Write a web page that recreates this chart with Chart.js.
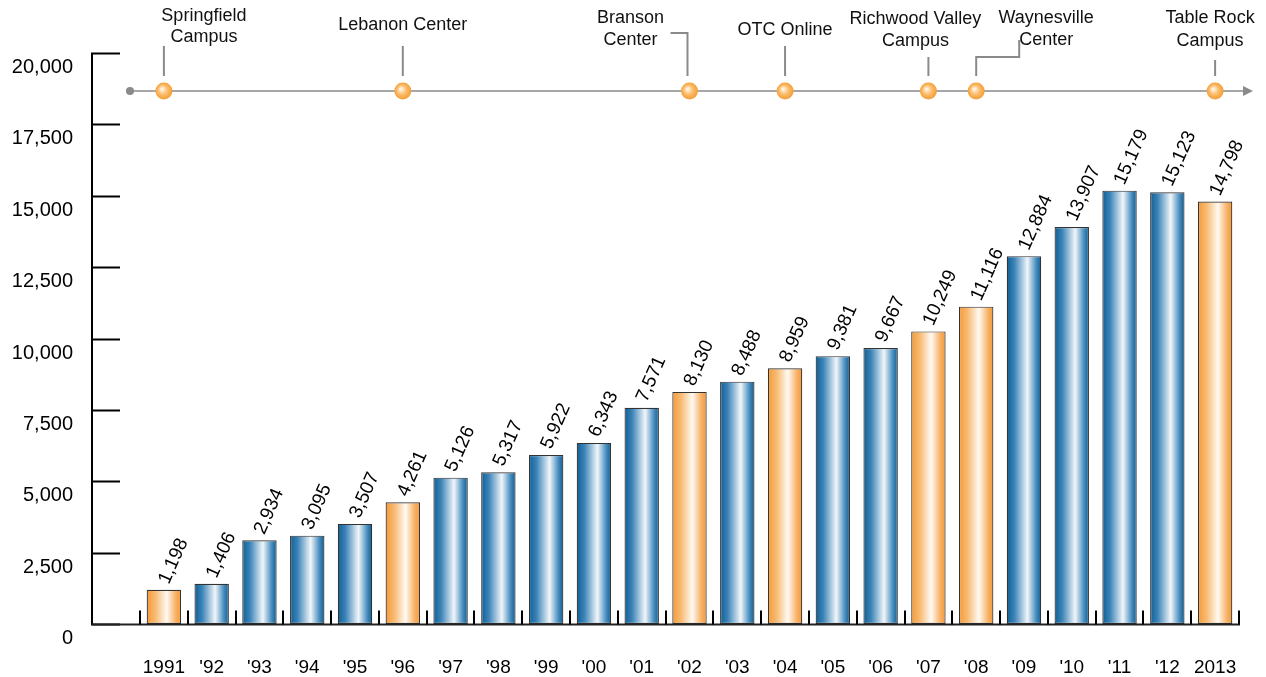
<!DOCTYPE html>
<html>
<head>
<meta charset="utf-8">
<script src="https://cdn.jsdelivr.net/npm/chart.js@4"></script>
<style>
  html, body { margin: 0; padding: 0; background: #ffffff; overflow: hidden; }
  #wrap { width: 1266px; height: 677px; }
  canvas { display: block; width: 1266px; height: 677px; }
</style>
</head>
<body>
<div id="wrap"><canvas id="enrollChart" width="1266" height="677"></canvas></div>
<script>
// ======================== Data ========================

const years = ['1991', "'92", "'93", "'94", "'95", "'96", "'97", "'98", "'99", "'00", "'01",
    "'02", "'03", "'04", "'05", "'06", "'07", "'08", "'09", "'10", "'11", "'12", '2013'];
const enrollment = [1198, 1406, 2934, 3095, 3507, 4261, 5126, 5317, 5922, 6343, 7571,
    8130, 8488, 8959, 9381, 9667, 10249, 11116, 12884, 13907, 15179, 15123, 14798];
const yTicks = [0, 2500, 5000, 7500, 10000, 12500, 15000, 17500, 20000];

// years where a new location opened (orange bars + timeline dots)
const milestoneIndex = [0, 5, 11, 13, 16, 17, 22];
const milestoneNames = [
    ['Springfield', 'Campus'],
    ['Lebanon Center'],
    ['Branson', 'Center'],
    ['OTC Online'],
    ['Richwood Valley', 'Campus'],
    ['Waynesville', 'Center'],
    ['Table Rock', 'Campus']
];

// ======================== Styling ========================

const FONT = 'Arial, "Liberation Sans", sans-serif';
const BAR_PCT = 0.72;

// label placement for each milestone: x shift from dot, line centres, connector shape
const milestoneLayout = [
    { dx: 40, ys: [16, 37], conn: 'straight', top: 46 },
    { dx: 0, ys: [25], conn: 'straight', top: 46 },
    { dx: -59, ys: [18, 40], conn: 'elbowLeft', top: 33 },
    { dx: 0, ys: [30], conn: 'straight', top: 46 },
    { dx: -13, ys: [19, 41], conn: 'straight', top: 57 },
    { dx: 70, ys: [18, 40], conn: 'stepRight', top: 57 },
    { dx: -5, ys: [18, 41], conn: 'straight', top: 60 }
];

function barGradient(ctx) {
    const chart = ctx.chart;
    const xScale = chart.scales.x;
    const orange = milestoneIndex.includes(ctx.dataIndex);
    if (!chart.chartArea || !xScale) {
        return orange ? '#f5a143' : '#1a6a9f';
    }
    const cx = xScale.getPixelForValue(ctx.dataIndex);
    const half = xScale.width / years.length * BAR_PCT / 2;
    const g = chart.ctx.createLinearGradient(cx - half, 0, cx + half, 0);
    if (orange) {
        g.addColorStop(0, '#f59a36');
        g.addColorStop(0.25, '#f8ba72');
        g.addColorStop(0.58, '#fffaf3');
        g.addColorStop(0.85, '#f8b064');
        g.addColorStop(1, '#f49834');
    } else {
        g.addColorStop(0, '#0f5f95');
        g.addColorStop(0.22, '#3b83b7');
        g.addColorStop(0.6, '#f1f6fa');
        g.addColorStop(0.85, '#4a8fc0');
        g.addColorStop(1, '#0c5b90');
    }
    return g;
}

// ======================== Plugins ========================

// axis lines, inward ticks and tick labels (drawn by hand to match the original look)
const axesPlugin = {
    id: 'axesPlugin',
    afterDraw(chart) {
        const { ctx, chartArea, scales } = chart;
        const x = scales.x, y = scales.y;
        const axisX = chartArea.left - 48;
        ctx.save();
        ctx.strokeStyle = '#000000';
        ctx.lineWidth = 2;
        // y axis line
        ctx.beginPath();
        ctx.moveTo(axisX, y.getPixelForValue(20000));
        ctx.lineTo(axisX, y.getPixelForValue(0) + 1);
        ctx.stroke();
        // inward tick marks + labels
        ctx.fillStyle = '#000000';
        ctx.font = '20px ' + FONT;
        ctx.textAlign = 'right';
        ctx.textBaseline = 'middle';
        yTicks.forEach(v => {
            const py = Math.round(y.getPixelForValue(v)) + 0.5;
            ctx.beginPath();
            ctx.moveTo(axisX - 1, py);
            ctx.lineTo(axisX + 28, py);
            ctx.stroke();
            ctx.fillText(v.toLocaleString('en-US'), axisX - 19, py + 14);
        });
        // baseline
        const base = Math.round(y.getPixelForValue(0)) + 0.5;
        ctx.strokeStyle = '#222222';
        ctx.beginPath();
        ctx.moveTo(axisX, base);
        ctx.lineTo(chartArea.right + 1, base);
        ctx.stroke();
        // category boundary ticks
        const step = x.width / years.length;
        ctx.strokeStyle = '#000000';
        for (let i = 0; i <= years.length; i++) {
            const px = Math.round(chartArea.left + i * step);
            ctx.beginPath();
            ctx.moveTo(px, base);
            ctx.lineTo(px, base - 14);
            ctx.stroke();
        }
        // category labels
        ctx.font = '19px ' + FONT;
        ctx.textAlign = 'center';
        years.forEach((lab, i) => {
            ctx.fillText(lab, x.getPixelForValue(i), base + 43);
        });
        ctx.restore();
    }
};

const valueLabelPlugin = {
    id: 'valueLabelPlugin',
    afterDatasetsDraw(chart) {
        const { ctx } = chart;
        const meta = chart.getDatasetMeta(0);
        ctx.save();
        ctx.fillStyle = '#000000';
        ctx.font = '19px ' + FONT;
        ctx.textAlign = 'left';
        ctx.textBaseline = 'middle';
        meta.data.forEach((bar, i) => {
            ctx.save();
            ctx.translate(bar.x, bar.y - 7);
            ctx.rotate(-66 * Math.PI / 180);
            ctx.fillText(enrollment[i].toLocaleString('en-US'), 0, 0);
            ctx.restore();
        });
        ctx.restore();
    }
};

const timelinePlugin = {
    id: 'timelinePlugin',
    afterDraw(chart) {
        const { ctx, chartArea, scales } = chart;
        const x = scales.x;
        const lineY = 91;
        const startX = chartArea.left - 10;
        const endX = chartArea.right + 14;
        ctx.save();

        // main line with arrow
        ctx.strokeStyle = '#8a8a8a';
        ctx.lineWidth = 1.5;
        ctx.beginPath();
        ctx.moveTo(startX, lineY);
        ctx.lineTo(endX - 8, lineY);
        ctx.stroke();
        ctx.fillStyle = '#8a8a8a';
        ctx.beginPath();
        ctx.moveTo(endX, lineY);
        ctx.lineTo(endX - 10, lineY - 5);
        ctx.lineTo(endX - 10, lineY + 5);
        ctx.closePath();
        ctx.fill();
        ctx.beginPath();
        ctx.arc(startX, lineY, 4, 0, 2 * Math.PI);
        ctx.fill();

        milestoneIndex.forEach((idx, k) => {
            const px = x.getPixelForValue(idx);
            const lay = milestoneLayout[k];

            // connector
            ctx.strokeStyle = '#8a8a8a';
            ctx.lineWidth = 2;
            ctx.beginPath();
            if (lay.conn === 'elbowLeft') {
                ctx.moveTo(px - 19, lay.top);
                ctx.lineTo(px - 2, lay.top);
                ctx.lineTo(px - 2, 76);
            } else if (lay.conn === 'stepRight') {
                ctx.moveTo(px + 43, 40);
                ctx.lineTo(px + 43, lay.top);
                ctx.lineTo(px, lay.top);
                ctx.lineTo(px, 76);
            } else {
                ctx.moveTo(px, lay.top);
                ctx.lineTo(px, 76);
            }
            ctx.stroke();

            // orange dot
            const g = ctx.createRadialGradient(px - 2, lineY - 2, 1, px, lineY, 9);
            g.addColorStop(0, '#fff1dc');
            g.addColorStop(0.45, '#fbbd6d');
            g.addColorStop(1, '#f39a2e');
            ctx.fillStyle = g;
            ctx.beginPath();
            ctx.arc(px, lineY, 8.5, 0, 2 * Math.PI);
            ctx.fill();

            // label
            ctx.fillStyle = '#111111';
            ctx.font = '18px ' + FONT;
            ctx.textAlign = 'center';
            ctx.textBaseline = 'middle';
            milestoneNames[k].forEach((line, j) => {
                ctx.fillText(line, px + lay.dx, lay.ys[j]);
            });
        });
        ctx.restore();
    }
};

// ======================== Chart ========================

document.addEventListener('DOMContentLoaded', () => {
    const ctx = document.getElementById('enrollChart').getContext('2d');

    new Chart(ctx, {
        type: 'bar',
        data: {
            labels: years,
            datasets: [{
                data: enrollment,
                backgroundColor: barGradient,
                borderColor: '#333333',
                borderWidth: 1.2,
                borderSkipped: false,
                barPercentage: BAR_PCT,
                categoryPercentage: 1.0
            }]
        },
        options: {
            responsive: false,
            maintainAspectRatio: false,
            animation: false,
            layout: {
                padding: { top: 53, right: 27, bottom: 53, left: 140 }
            },
            scales: {
                x: { display: false },
                y: { display: false, min: 0, max: 20000 }
            },
            plugins: {
                legend: { display: false },
                tooltip: { enabled: false }
            }
        },
        plugins: [axesPlugin, valueLabelPlugin, timelinePlugin]
    });
});
</script>
</body>
</html>
